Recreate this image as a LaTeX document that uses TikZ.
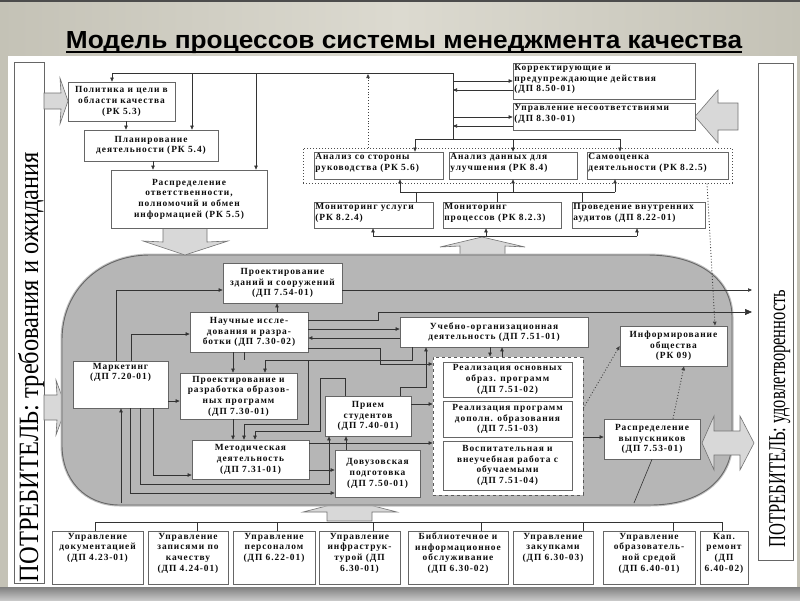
\documentclass[tikz,border=0pt]{standalone}
\usepackage{graphicx}
\usepackage{fontspec}
\setmainfont{Liberation Serif}
\newfontfamily\boxfont[LetterSpace=10]{Liberation Serif}
\newfontfamily\titlefont{Liberation Sans}
\usetikzlibrary{arrows.meta}
\definecolor{ovalc}{HTML}{B6B6B6}
\definecolor{bgc}{HTML}{C4C2B6}
\definecolor{bandc}{HTML}{DCDAD0}
\definecolor{arrc}{HTML}{D8D8D8}
\tikzset{
 ln/.style={draw=black!80, line width=0.6pt},
 arr/.style={ln, -{Triangle[length=4pt,width=3.4pt]}},
 bigarr/.style={ln, -{Triangle[length=7pt,width=6pt]}},
 dotarr/.style={draw=black!75, line width=0.9pt, dotted, -{Triangle[length=4pt,width=3.4pt]}},
 box/.style={draw=black!60, line width=0.7pt, fill=white, inner sep=1pt},
 btxt/.style={font=\boxfont\bfseries\fontsize{9.4}{10.7}\selectfont, text=black!95, align=center, inner sep=1.5pt},
 garr/.style={fill=arrc, draw=black!55, line width=0.6pt},
}
% centred text
\newcommand\bxc[6]{\node[box, btxt, minimum width={(#4)-(#2)}, minimum height={(#5)-(#3)}] (#1) at ({((#2)+(#4))/2},{((#3)+(#5))/2}) {#6};}
% top-centred text
\newcommand\bxtop[6]{\node[box, minimum width={(#4)-(#2)}, minimum height={(#5)-(#3)}] (#1) at ({((#2)+(#4))/2},{((#3)+(#5))/2}) {};
 \node[btxt, anchor=north, inner sep=2pt] (#1-t) at (#1.north) {#6};}
% top-left text
\newcommand\bxl[6]{\node[box, minimum width={(#4)-(#2)}, minimum height={(#5)-(#3)}] (#1) at ({((#2)+(#4))/2},{((#3)+(#5))/2}) {};
 \node[btxt, align=left, anchor=north west, inner sep=1.5pt] (#1-t) at (#1.north west) {#6};}
\begin{document}
\begin{tikzpicture}[x=1pt,y=-1pt]
\useasboundingbox (0,0) rectangle (800,600);
% background
\fill[bgc] (0,0) rectangle (800,600);
\shade[left color=bgc, right color=bgc, middle color=bandc] (0,2) rectangle (800,56);
\fill[black!70] (0,0) rectangle (800,2);
\fill[white] (8,56) rectangle (797,587);
\shade[top color=black!50, bottom color=black!22] (0,587) rectangle (800,600);
% title
\node[font=\titlefont\bfseries, anchor=base, inner sep=0pt] (title) at (404,48) {\resizebox{676pt}{17pt}{Модель процессов системы менеджмента качества}};
\draw[line width=1.6pt] (66,52) -- (742,52);

% customers
\node[box, minimum width=30, minimum height=521] (custL) at (29,322.5) {};
\node[rotate=90, anchor=base, inner sep=0pt] (custLt) at (38,367) {\resizebox{430pt}{20pt}{ПОТРЕБИТЕЛЬ: требования и ожидания}};
\node[box, minimum width=35, minimum height=497] (custR) at (775.5,311.5) {};
\node[rotate=90, anchor=base, inner sep=0pt] (custRt) at (785,418.5) {\resizebox{257pt}{16pt}{ПОТРЕБИТЕЛЬ: удовлетворенность}};

% gray arrows behind oval
\draw[garr] (460,262) -- (460,246) -- (440,247) -- (482,237) -- (525,247) -- (505,246) -- (505,262) -- cycle;
\draw[garr] (327,521) -- (327,512) -- (303,512) -- (350,500) -- (397,512) -- (372,512) -- (372,521) -- cycle;
\draw[garr] (44,395) -- (57,395) -- (56,380) -- (66,407.5) -- (56,435) -- (57,420) -- (44,420) -- cycle;

% oval
\draw[line width=3pt, draw=black!25] (150,255) -- (647,255) .. controls (700,255) and (732,280) .. (732,317) -- (732,440) .. controls (732,480) and (700,505) .. (650,505) -- (120,505) .. controls (85,505) and (62,480) .. (62,445) -- (62,340) .. controls (62,290) and (100,255) .. (150,255) -- cycle;
\draw[fill=ovalc, draw=black!60, line width=0.9pt] (150,255) -- (647,255) .. controls (700,255) and (732,280) .. (732,317) -- (732,440) .. controls (732,480) and (700,505) .. (650,505) -- (120,505) .. controls (85,505) and (62,480) .. (62,445) -- (62,340) .. controls (62,290) and (100,255) .. (150,255) -- cycle;

% other gray arrows
\draw[garr] (44,93) -- (61,93) -- (60,78) -- (68,101) -- (60,124) -- (61,109) -- (44,109) -- cycle;
\draw[garr] (163,228) -- (163,242) -- (143,241) -- (185,255) -- (228,241) -- (207,242) -- (207,228) -- cycle;
\draw[garr] (738,103) -- (718,103) -- (718,90) -- (695,116.5) -- (718,143) -- (718,130) -- (738,130) -- cycle;

% top boxes
\bxc{pol}{68}{82}{175}{121}{Политика и цели в\\области качества\\(РК 5.3)}
\bxc{plan}{84}{130}{218}{161}{Планирование\\деятельности (РК 5.4)}
\bxc{raspr}{111}{170}{267}{228}{Распределение\\ответственности,\\полномочий и обмен\\информацией (РК 5.5)}
\bxl{korr}{513}{63}{695}{99}{Корректирующие и\\предупреждающие действия\\(ДП 8.50-01)}
\bxl{upr}{513}{103}{695}{130}{Управление несоответствиями\\(ДП 8.30-01)}
\node[draw=black!70, dotted, line width=1pt, minimum width=429, minimum height=35, inner sep=0pt] (dotbox) at (517.5,165.5) {};
\bxl{an1}{314}{152}{443}{179}{Анализ со стороны\\руководства (РК 5.6)}
\bxl{an2}{449}{152}{577}{179}{Анализ данных для\\улучшения (РК 8.4)}
\bxl{an3}{587}{152}{728}{179}{Самооценка\\деятельности (РК 8.2.5)}
\bxl{mon1}{314}{202}{433}{228}{Мониторинг услуги\\(РК 8.2.4)}
\bxl{mon2}{443}{202}{561}{228}{Мониторинг\\процессов (РК 8.2.3)}
\bxl{mon3}{572}{202}{705}{228}{Проведение внутренних\\аудитов (ДП 8.22-01)}

% oval boxes
\bxc{zdan}{223}{263}{342}{303}{Проектирование\\зданий и сооружений\\(ДП 7.54-01)}
\bxc{nauch}{190}{312}{308}{352}{Научные иссле-\\дования и разра-\\ботки (ДП 7.30-02)}
\bxtop{mark}{73}{361}{168}{408}{Маркетинг\\(ДП 7.20-01)}
\bxc{proekt}{180}{373}{297}{419}{Проектирование и\\разработка образов-\\ных программ\\(ДП 7.30-01)}
\bxc{metod}{192}{440}{309}{479}{Методическая\\деятельность\\(ДП 7.31-01)}
\bxc{ucheb}{400}{317}{588}{347}{Учебно-организационная\\деятельность (ДП 7.51-01)}
\bxc{priem}{325}{396}{411}{436}{Прием\\студентов\\(ДП 7.40-01)}
\bxc{dovuz}{335}{450}{420}{497}{Довузовская\\подготовка\\(ДП 7.50-01)}
\node[draw=black!65, dashed, line width=0.8pt, fill=white, minimum width=150, minimum height=138, inner sep=0pt] (dash) at (508,426) {};
\bxc{real1}{443}{362}{572}{397}{Реализация основных\\образ. программ\\(ДП 7.51-02)}
\bxc{real2}{443}{401}{572}{437}{Реализация программ\\дополн. образования\\(ДП 7.51-03)}
\bxc{real3}{443}{441}{572}{490}{Воспитательная и\\внеучебная работа с\\обучаемыми\\(ДП 7.51-04)}
\bxc{inform}{620}{326}{727}{366}{Информирование\\общества\\(РК 09)}
\bxc{vyp}{604}{419}{700}{459}{Распределение\\выпускников\\(ДП 7.53-01)}
\draw[garr] (702,443) -- (714,416) -- (714,431) -- (740,431) -- (740,416) -- (754,443) -- (740,470) -- (740,455) -- (714,455) -- (714,470) -- cycle;

% bottom boxes
\bxtop{b1}{52}{531}{143}{584}{Управление\\документацией\\(ДП 4.23-01)}
\bxtop{b2}{148}{531}{228}{584}{Управление\\записями по\\качеству\\(ДП 4.24-01)}
\bxtop{b3}{233}{531}{315}{584}{Управление\\персоналом\\(ДП 6.22-01)}
\bxtop{b4}{319}{531}{400}{584}{Управление\\инфраструк-\\турой (ДП\\6.30-01)}
\bxtop{b5}{408}{531}{508}{584}{Библиотечное и\\информационное\\обслуживание\\(ДП 6.30-02)}
\bxtop{b6}{513}{531}{593}{584}{Управление\\закупками\\(ДП 6.30-03)}
\bxtop{b7}{603}{531}{695}{584}{Управление\\образователь-\\ной средой\\(ДП 6.40-01)}
\bxtop{b8}{700}{531}{748}{584}{Кап.\\ремонт\\(ДП\\6.40-02)}

% ---- connectors: management
\coordinate (tl) at (453,73);
\coordinate (tb) at (453,139);
\draw[ln] (tb) -- (tl) -- (112,73);
\draw[arr] (112,73) -- (112,0 |- pol.north);
\draw[arr] (192,73) -- (192,0 |- plan.north);
\draw[arr] (256,73) -- (256,0 |- raspr.north);
\draw[arr] (126,0 |- pol.south) -- (126,0 |- plan.north);
\draw[arr] (153,0 |- plan.south) -- (153,0 |- raspr.north);
\draw[arr] (453,81) -- (korr.west |- 0,81);
\draw[arr] (korr.west |- 0,90) -- (453,90);
\draw[arr] (453,117) -- (upr.west |- 0,117);
\draw[arr] (upr.west |- 0,126) -- (453,126);
\draw[ln] (415,139) -- (620,139);
\draw[arr] (415,139) -- (415,0 |- an1.north);
\draw[arr] (513,139) -- (513,0 |- an2.north);
\draw[arr] (620,139) -- (620,0 |- an3.north);
\draw[dotarr] (368,0 |- dotbox.north) -- (368,74);
\draw[ln] (400,192) -- (615,192);
\draw[arr] (400,192) -- (400,0 |- an1.south);
\draw[arr] (513,192) -- (513,0 |- an2.south);
\draw[arr] (615,192) -- (615,0 |- an3.south);
\draw[ln] (416,0 |- mon1.north) -- (416,192);
\draw[ln] (497,0 |- mon2.north) -- (497,192);
\draw[ln] (582,0 |- mon3.north) -- (582,192);
\draw[ln] (373,236) -- (637,236);
\draw[arr] (373,236) -- (373,0 |- mon1.south);
\draw[arr] (486,236) -- (486,0 |- mon2.south);
\draw[arr] (637,236) -- (637,0 |- mon3.south);
\draw[dotarr] (707,0 |- dotbox.south) -- (715,0 |- inform.north);

% ---- connectors: processes
\draw[arr] (116,0 |- mark.north) -- (116,290) -- (zdan.west |- 0,290);
\draw[arr] (131,0 |- mark.north) -- (131,334) -- (nauch.west |- 0,334);
\draw[arr] (mark.east |- 0,401) -- (proekt.west |- 0,401);
\draw[arr] (153,0 |- mark.south) -- (153,475) -- (metod.west |- 0,475);
\draw[arr] (140,0 |- mark.south) -- (140,484) -- (329,484) -- (329,0 |- priem.south);
\draw[arr] (130,0 |- mark.south) -- (130,493) -- (dovuz.west |- 0,493);
\draw[arr] (121,503) -- (121,0 |- mark.south);
\draw[arr] (277,0 |- nauch.north) -- (277,0 |- zdan.south);
\draw[arr] (233,0 |- nauch.south) -- (233,0 |- proekt.north);
\draw[arr] (233,0 |- proekt.south) -- (233,0 |- metod.north);
\draw[arr] (zdan.east |- 0,290) -- (752,290);
\draw[bigarr] (nauch.east |- 0,320) -- (378,320) -- (378,312) -- (752,312);
\draw[arr] (nauch.east |- 0,329) -- (ucheb.west |- 0,329);
\draw[arr] (ucheb.west |- 0,338) -- (nauch.east |- 0,338);
\draw[arr] (nauch.east |- 0,348) -- (380,348) -- (380,364) -- (dash.west |- 0,364);
\draw[arr] (412,0 |- ucheb.south) -- (412,360) -- (265,360) -- (265,0 |- proekt.north);
\draw[ln] (244,0 |- nauch.south) -- (244,360);
\draw[arr] (308,360) -- (308,424) -- (244,424) -- (244,0 |- metod.north);
\draw[arr] (345,0 |- priem.north) -- (345,378) -- (320,378) -- (320,431) -- (255,431) -- (255,0 |- metod.north);
\draw[arr] (400,0 |- priem.north) -- (400,387) -- (426,387) -- (426,0 |- ucheb.south);
\draw[arr] (490,0 |- ucheb.south) -- (490,0 |- dash.north);
\draw[arr] (502,0 |- dash.north) -- (502,0 |- ucheb.south);
\draw[arr] (priem.east |- 0,404) -- (dash.west |- 0,404);
\draw[arr] (metod.east |- 0,443) -- (dash.west |- 0,443);
\draw[arr] (346,0 |- dovuz.north) -- (346,0 |- priem.south);
\draw[arr] (metod.east |- 0,470) -- (dovuz.west |- 0,470);
\draw[arr] (dash.east |- 0,437) -- (vyp.west |- 0,437);
\draw[dotarr] (dash.east |- 0,408) -- (inform.west |- 0,346);
\draw[dotarr] (673,0 |- vyp.north) -- (684,0 |- inform.south);
\draw[ln] (652,0 |- vyp.south) -- (634,503);

% ---- bottom tree
\draw[ln] (95,522) -- (722,522);
\foreach \xx/\bb in {95/b1,197/b2,277/b3,373/b4,481/b5,583/b6,673/b7,722/b8}
  \draw[ln] (\xx,522) -- (\xx,0 |- \bb.north);
\end{tikzpicture}
\end{document}
